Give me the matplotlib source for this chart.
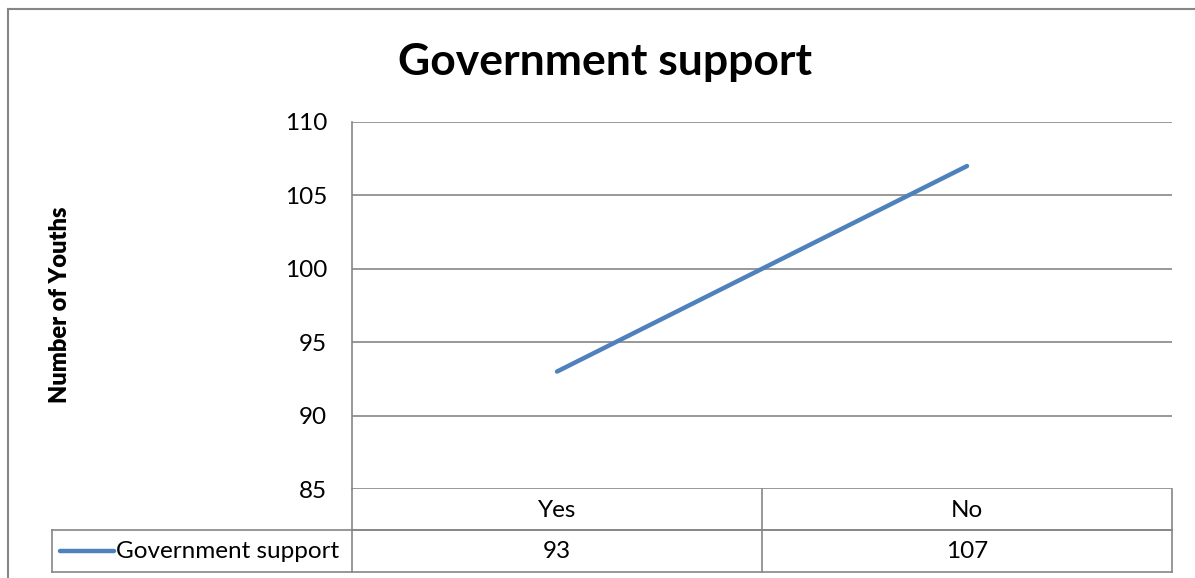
import matplotlib
matplotlib.use("Agg")
import matplotlib.pyplot as plt
from matplotlib.lines import Line2D

# values shown in the chart and its data table
categories = ["Yes", "No"]
series_name = "Government support"
youths = [93, 107]
y_ticks = [85, 90, 95, 100, 105, 110]

BLUE = "#4F81BD"
GRID = "#868686"
W, H = 1195, 578
FS = 17.5

plt.rcParams["font.family"] = ["Lato", "DejaVu Sans"]

fig = plt.figure(figsize=(W / 100, H / 100), dpi=100)


def fx(px):
    return px / W


def fy(py):
    return 1 - py / H


# plot area in pixel terms
left, right, top, bottom = 352, 1172, 122, 489
ax = fig.add_axes([fx(left), fy(bottom), fx(right - left), (bottom - top) / H])

x = list(range(len(categories)))
ax.plot(x, youths, color=BLUE, linewidth=3.2, solid_capstyle="round")
ax.set_xlim(-0.5, len(categories) - 0.5)
ax.set_ylim(y_ticks[0], y_ticks[-1])
ax.set_yticks(y_ticks)
ax.set_yticklabels([str(t) for t in y_ticks], fontsize=FS)
ax.tick_params(axis="y", length=0, pad=18)
ax.set_xticks([])
for t in y_ticks:
    ax.axhline(t, color=GRID, linewidth=1.2, zorder=0)
for s in ["top", "right", "bottom"]:
    ax.spines[s].set_visible(False)
ax.spines["left"].set_color(GRID)
ax.spines["left"].set_linewidth(1.2)

fig.text(fx(60), fy(305), "Number of Youths", rotation=90, ha="center", va="center",
         fontsize=17, fontweight="heavy")

# data table under the plot area
row_h = 41
rows_y = [bottom, bottom + row_h, bottom + 2 * row_h + 1]
table_left = 52
col_edges = [left] + [left + (right - left) * (i + 1) / len(categories) for i in range(len(categories))]


def hline(x0, x1, py):
    fig.add_artist(Line2D([fx(x0), fx(x1)], [fy(py), fy(py)], color=GRID, linewidth=1.2))


def vline(px, y0, y1):
    fig.add_artist(Line2D([fx(px), fx(px)], [fy(y0), fy(y1)], color=GRID, linewidth=1.2))


hline(left, right, rows_y[1])
hline(table_left, right, rows_y[1])
hline(table_left, right, rows_y[2])
vline(table_left, rows_y[1], rows_y[2])
vline(left, rows_y[0], rows_y[2])
for ce in col_edges[1:]:
    vline(ce, rows_y[0], rows_y[2])

for i, (cat, val) in enumerate(zip(categories, youths)):
    cx = (col_edges[i] + col_edges[i + 1]) / 2
    fig.text(fx(cx), fy((rows_y[0] + rows_y[1]) / 2 + 1), cat, ha="center", va="center", fontsize=FS)
    fig.text(fx(cx), fy((rows_y[1] + rows_y[2]) / 2), str(val), ha="center", va="center", fontsize=FS)

# legend key inside the table
ky = fy((rows_y[1] + rows_y[2]) / 2)
fig.add_artist(Line2D([fx(60), fx(114)], [ky, ky], color=BLUE, linewidth=3.2, solid_capstyle="round"))
fig.text(fx(116), ky, series_name, ha="left", va="center", fontsize=FS)

# title
fig.text(fx(605), fy(62), "Government support", ha="center", va="center",
         fontsize=32, fontweight="bold")

# chart area border (left and top edges)
fig.add_artist(Line2D([fx(8), fx(8)], [fy(9), 0], color=GRID, linewidth=1.5))
fig.add_artist(Line2D([fx(8), 1], [fy(9), fy(9)], color=GRID, linewidth=1.5))

fig.savefig("out.png", dpi=100)
